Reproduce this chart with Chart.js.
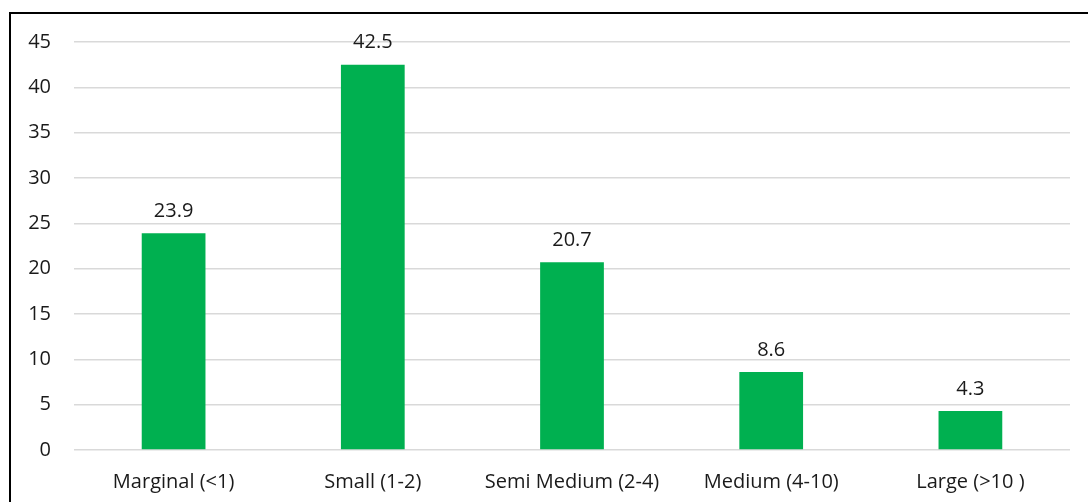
<!DOCTYPE html>
<html>
<head>
<meta charset="utf-8">
<script src="https://cdn.jsdelivr.net/npm/chart.js@4/dist/chart.umd.min.js"></script>
<style>
  html, body { margin: 0; padding: 0; background: #fff; }
  #wrap { position: relative; width: 1088px; height: 502px; overflow: hidden; }
  #frame { position: absolute; left: 9px; top: 12px; width: 1100px; height: 520px;
           border-left: 2px solid #000; border-top: 2px solid #000; box-sizing: border-box; }
  canvas { position: absolute; left: 0; top: 0; }
</style>
</head>
<body>
<div id="wrap">
  <div id="frame"></div>
  <canvas id="c" width="1088" height="502"></canvas>
</div>
<script>
const categories = ["Marginal (<1)", "Small (1-2)", "Semi Medium (2-4)", "Medium (4-10)", "Large (>10 )"];
const values = [23.9, 42.5, 20.7, 8.6, 4.3];
const yTicks = [0, 5, 10, 15, 20, 25, 30, 35, 40, 45];

const FONT = "'Open Sans', 'Noto Sans', sans-serif";
const FSIZE = 20;

const valueLabels = {
  id: 'valueLabels',
  afterDatasetsDraw(chart) {
    const ctx = chart.ctx;
    const meta = chart.getDatasetMeta(0);
    ctx.save();
    ctx.font = FSIZE + "px " + FONT;
    ctx.fillStyle = "#1a1a1a";
    ctx.textAlign = "center";
    ctx.textBaseline = "middle";
    meta.data.forEach((bar, i) => {
      ctx.fillText(String(values[i]), bar.x, bar.y - 22);
    });
    ctx.restore();
  }
};

new Chart(document.getElementById('c'), {
  type: 'bar',
  data: {
    labels: categories,
    datasets: [{
      data: values,
      backgroundColor: '#00b050',
      borderWidth: 0,
      barPercentage: 0.32,
      categoryPercentage: 1.0
    }]
  },
  options: {
    responsive: false,
    animation: false,
    devicePixelRatio: 1,
    layout: { padding: { left: 0, right: 18, top: 42, bottom: 0 } },
    plugins: { legend: { display: false }, tooltip: { enabled: false } },
    scales: {
      x: {
        afterFit(scale) { scale.height = 52; },
        grid: { display: false, drawTicks: false },
        border: { display: false },
        ticks: { color: '#1a1a1a', font: { family: FONT, size: FSIZE }, padding: 20, maxRotation: 0, autoSkip: false }
      },
      y: {
        min: 0, max: 45,
        afterFit(scale) { scale.width = 74; },
        afterBuildTicks(scale) { scale.ticks = yTicks.map(v => ({ value: v })); },
        grid: { color: '#d9d9d9', lineWidth: 1.5, drawTicks: false },
        border: { display: false },
        ticks: { color: '#1a1a1a', font: { family: FONT, size: FSIZE }, padding: 23 }
      }
    }
  },
  plugins: [valueLabels]
});
</script>
</body>
</html>
